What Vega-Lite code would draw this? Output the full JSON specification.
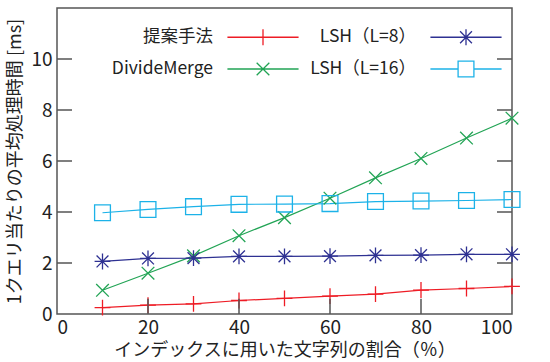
{
  "$schema": "https://vega.github.io/schema/vega-lite/v6.json",
  "width": 550,
  "height": 362,
  "autosize": {"type": "fit", "contains": "padding"},
  "padding": {"left": 6, "top": 8, "right": 27, "bottom": 3},
  "config": {
    "font": "Noto Sans CJK JP",
    "view": {"stroke": "#555555", "strokeWidth": 1.5},
    "axis": {"grid": false, "domain": false, "ticks": false, "labelPadding": 5, "labelFontSize": 19, "labelColor": "#222222", "titleFontSize": 18, "titleFontWeight": "normal", "titleColor": "#222222"}
  },
  "datasets": {
    "series": [
      {"p": 10, "s": "提案手法", "t": 0.25}, {"p": 20, "s": "提案手法", "t": 0.35}, {"p": 30, "s": "提案手法", "t": 0.40}, {"p": 40, "s": "提案手法", "t": 0.53}, {"p": 50, "s": "提案手法", "t": 0.61}, {"p": 60, "s": "提案手法", "t": 0.70}, {"p": 70, "s": "提案手法", "t": 0.78}, {"p": 80, "s": "提案手法", "t": 0.94}, {"p": 90, "s": "提案手法", "t": 1.0}, {"p": 100, "s": "提案手法", "t": 1.08},
      {"p": 10, "s": "DivideMerge", "t": 0.93}, {"p": 20, "s": "DivideMerge", "t": 1.6}, {"p": 30, "s": "DivideMerge", "t": 2.28}, {"p": 40, "s": "DivideMerge", "t": 3.07}, {"p": 50, "s": "DivideMerge", "t": 3.78}, {"p": 60, "s": "DivideMerge", "t": 4.54}, {"p": 70, "s": "DivideMerge", "t": 5.34}, {"p": 80, "s": "DivideMerge", "t": 6.1}, {"p": 90, "s": "DivideMerge", "t": 6.9}, {"p": 100, "s": "DivideMerge", "t": 7.68},
      {"p": 10, "s": "LSH（L=8）", "t": 2.06}, {"p": 20, "s": "LSH（L=8）", "t": 2.18}, {"p": 30, "s": "LSH（L=8）", "t": 2.19}, {"p": 40, "s": "LSH（L=8）", "t": 2.26}, {"p": 50, "s": "LSH（L=8）", "t": 2.26}, {"p": 60, "s": "LSH（L=8）", "t": 2.27}, {"p": 70, "s": "LSH（L=8）", "t": 2.3}, {"p": 80, "s": "LSH（L=8）", "t": 2.31}, {"p": 90, "s": "LSH（L=8）", "t": 2.34}, {"p": 100, "s": "LSH（L=8）", "t": 2.34},
      {"p": 10, "s": "LSH（L=16）", "t": 3.97}, {"p": 20, "s": "LSH（L=16）", "t": 4.1}, {"p": 30, "s": "LSH（L=16）", "t": 4.21}, {"p": 40, "s": "LSH（L=16）", "t": 4.3}, {"p": 50, "s": "LSH（L=16）", "t": 4.31}, {"p": 60, "s": "LSH（L=16）", "t": 4.33}, {"p": 70, "s": "LSH（L=16）", "t": 4.41}, {"p": 80, "s": "LSH（L=16）", "t": 4.43}, {"p": 90, "s": "LSH（L=16）", "t": 4.45}, {"p": 100, "s": "LSH（L=16）", "t": 4.49}
    ]
  },
  "layer": [
    {"data": {"name": "series"},
     "mark": {"type": "line", "strokeWidth": 1.2},
     "encoding": {
       "x": {"field": "p", "type": "quantitative", "scale": {"domain": [0, 100], "nice": false}, "axis": {"values": [0, 20, 40, 60, 80, 100], "title": "インデックスに用いた文字列の割合（％）", "titlePadding": 4, "labelPadding": 4}},
       "y": {"field": "t", "type": "quantitative", "scale": {"domain": [0, 12], "nice": false}, "axis": {"values": [0, 2, 4, 6, 8, 10], "title": "1クエリ当たりの平均処理時間 [ms]", "titlePadding": 6}},
       "color": {"field": "s", "type": "nominal", "scale": {"domain": ["提案手法", "DivideMerge", "LSH（L=8）", "LSH（L=16）"], "range": ["#ee1c25", "#22a455", "#2e3192", "#1cb2e8"]},
         "legend": {"title": null, "orient": "none", "legendX": 197, "legendY": 20, "columns": 2, "columnPadding": 8, "rowPadding": 10, "labelFontSize": 17.5, "labelColor": "#222222", "labelAlign": "right", "labelOffset": -59, "symbolSize": 250, "symbolStrokeWidth": 1.3, "symbolFillColor": "transparent", "symbolType": "M-4.5,0H4.5",
           "encode": {"symbols": {"update": {"shape": {"signal": "datum.value === '提案手法' ? 'M-4.5,0H4.5M0,-1V1' : datum.value === 'DivideMerge' ? 'M-4.5,0H4.5M-0.8,-0.8L0.8,0.8M-0.8,0.8L0.8,-0.8' : datum.value === 'LSH（L=8）' ? 'M-4.5,0H4.5M0,-1V1M-0.75,-0.75L0.75,0.75M-0.75,0.75L0.75,-0.75' : 'M-4.5,0H-1M1,0H4.5M-1,-1H1V1H-1Z'"}}}}}}
     }},
    {"data": {"name": "series"},
     "mark": {"type": "point", "filled": false, "size": 250, "strokeWidth": 1.3, "opacity": 1},
     "encoding": {
       "x": {"field": "p", "type": "quantitative"},
       "y": {"field": "t", "type": "quantitative"},
       "color": {"field": "s", "type": "nominal", "legend": null},
       "shape": {"field": "s", "type": "nominal", "scale": {"domain": ["提案手法", "DivideMerge", "LSH（L=8）", "LSH（L=16）"], "range": ["M-1,0H1M0,-1V1", "M-0.8,-0.8L0.8,0.8M-0.8,0.8L0.8,-0.8", "M-1,0H1M0,-1V1M-0.75,-0.75L0.75,0.75M-0.75,0.75L0.75,-0.75", "square"]}, "legend": null}}},
    {"data": {"values": [{"v": 2}, {"v": 4}, {"v": 6}, {"v": 8}, {"v": 10}]},
     "mark": {"type": "rule", "strokeWidth": 1.5},
     "encoding": {"x": {"datum": 0, "type": "quantitative"}, "x2": {"datum": 3.3}, "y": {"field": "v", "type": "quantitative"}, "color": {"value": "#555555"}}},
    {"data": {"values": [{"v": 2}, {"v": 4}, {"v": 6}, {"v": 8}, {"v": 10}]},
     "mark": {"type": "rule", "strokeWidth": 1.5},
     "encoding": {"x": {"datum": 96.7, "type": "quantitative"}, "x2": {"datum": 100}, "y": {"field": "v", "type": "quantitative"}, "color": {"value": "#555555"}}},
    {"data": {"values": [{"v": 20}, {"v": 40}, {"v": 60}, {"v": 80}]},
     "mark": {"type": "rule", "strokeWidth": 1.5},
     "encoding": {"x": {"field": "v", "type": "quantitative"}, "y": {"datum": 0, "type": "quantitative"}, "y2": {"datum": 0.6}, "color": {"value": "#555555"}}}
  ],
  "resolve": {"legend": {"color": "independent", "shape": "independent"}}
}
